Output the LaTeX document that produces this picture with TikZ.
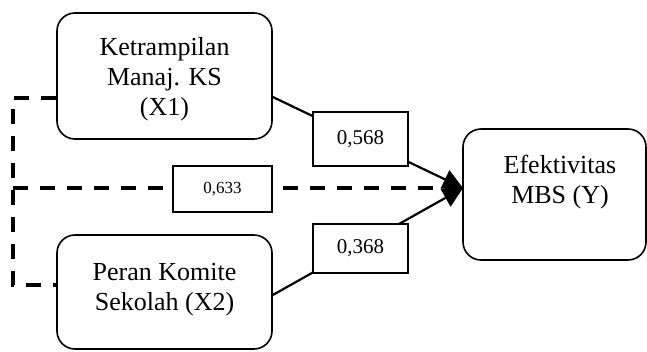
\documentclass[tikz,border=0pt]{standalone}
\usepackage{fontspec}
\setmainfont{Liberation Serif}
\usetikzlibrary{arrows.meta,calc}
\tikzset{
  varbox/.style={draw,line width=1.6pt,rounded corners=18pt,inner sep=0pt,
    font=\fontsize{26}{30}\selectfont},
  coefbox/.style={draw,line width=1.4pt,fill=white,inner sep=0pt},
  path/.style={line width=2.2pt,-{Triangle[length=20pt,width=20pt]}},
  corr/.style={line width=3.5pt,dash pattern=on 15pt off 12pt},
}
\newcommand{\stack}[2]{\raisebox{#1}[\height][\depth]{\begin{tabular}{@{}c@{}}#2\end{tabular}}}
\begin{document}
\begin{tikzpicture}[x=1pt,y=-1pt]
\useasboundingbox (0,0) rectangle (647,351);
% variable boxes
\node[varbox,minimum width=215pt,minimum height=126pt] (X1) at (164.5,76)
  {\stack{-3pt}{Ketrampilan\\Manaj. KS\\(X1)}};
\node[varbox,minimum width=215pt,minimum height=114pt] (X2) at (164.5,292)
  {\stack{3pt}{Peran Komite\\Sekolah (X2)}};
\node[varbox,minimum width=183pt,minimum height=131pt] (Y) at (554.5,194.5)
  {\hspace*{11pt}\stack{12pt}{Efektivitas\\MBS (Y)}};
\coordinate (tip) at (463,188);
\coordinate (c1) at (13,98);
\coordinate (c2) at (13,285);
\coordinate (c3) at (13,188);
% correlation bracket
\draw[corr] ($(X1.west)+(0,22)$) -- (c1) -- (c2) -- ($(X2.west)+(0,-7)$);
\draw[corr,-{Triangle[length=18pt,width=18pt]}] (c3) -- (tip);
% paths
\draw[path] ($(X1.east)+(0,21)$) -- (tip);
\draw[path] ($(X2.east)+(0,3)$) -- (tip);
% coefficient boxes
\node[coefbox,minimum width=95pt,minimum height=54pt,font=\fontsize{21}{24}\selectfont] (L1) at (360.5,139) {0,568};
\node[coefbox,minimum width=95pt,minimum height=49pt,font=\fontsize{21}{24}\selectfont] (L2) at (360.5,248.5) {0,368};
\node[coefbox,minimum width=99pt,minimum height=46pt,font=\fontsize{17}{20}\selectfont] (L3) at (222.5,189) {0,633};
\end{tikzpicture}
\end{document}
